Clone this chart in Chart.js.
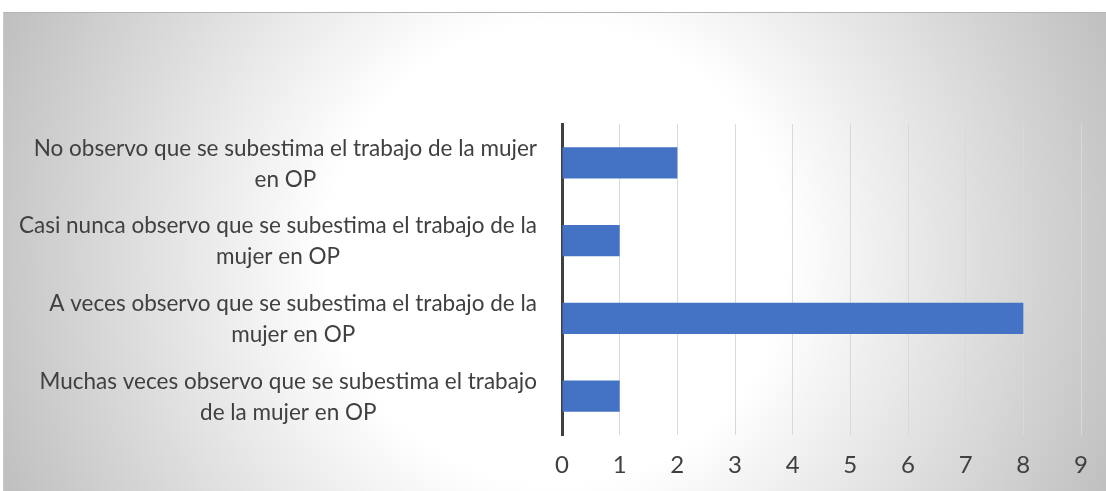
<!DOCTYPE html>
<html>
<head>
<meta charset="utf-8">
<script src="https://cdn.jsdelivr.net/npm/chart.js@4"></script>
<style>
    html, body { margin: 0; padding: 0; width: 1106px; height: 491px; overflow: hidden; background: #fff; }
    #frame {
        position: absolute; left: 3px; top: 12px; width: 1106px; height: 482px;
        border-top: 1px solid #b4b4b4; border-left: 1px solid #c8c8c8;
        background: radial-gradient(circle farthest-corner at 50% 50%, #ffffff 0%, #ffffff 38%, #bfbfbf 100%);
    }
    #bar-chart { position: absolute; left: 0; top: 0; }
</style>
</head>
<body>
<div id="frame"></div>
<canvas id="bar-chart" width="1106" height="491"></canvas>
<script>
const categories = [
    ["No observo que se subestima el trabajo de la mujer", "en OP"],
    ["Casi nunca observo que se subestima el trabajo de la", "mujer en OP"],
    ["A veces observo que se subestima el trabajo de la", "mujer en OP"],
    ["Muchas veces observo que se subestima el trabajo", "de la mujer en OP"]
];
const values = [2, 1, 8, 1];
const xMin = 0;
const xMax = 9;

const fontFamily = 'Lato, "Open Sans", sans-serif';
const labelFont = '22.5px ' + fontFamily;
const textColor = '#404040';

// category labels: block right aligned, lines centred inside the block
const categoryLabels = {
    id: 'categoryLabels',
    afterDraw(chart) {
        const ctx = chart.ctx;
        const y = chart.scales.y;
        const right = chart.chartArea.left - 25;
        const lineH = 31;
        ctx.save();
        ctx.font = labelFont;
        ctx.fillStyle = textColor;
        ctx.textAlign = 'center';
        ctx.textBaseline = 'middle';
        categories.forEach((lines, i) => {
            const cy = y.getPixelForValue(i) + 1;
            const w = Math.max(...lines.map(t => ctx.measureText(t).width));
            const cx = right - w / 2;
            lines.forEach((t, j) => {
                ctx.fillText(t, cx, cy + (j - (lines.length - 1) / 2) * lineH);
            });
        });
        ctx.restore();
    }
};

function setupChart() {
    const ctx = document.getElementById('bar-chart');

    const config = {
        type: 'bar',
        data: {
            labels: categories,
            datasets: [{
                data: values,
                backgroundColor: '#4472C4',
                barPercentage: 0.5,
                categoryPercentage: 0.8
            }]
        },
        options: {
            indexAxis: 'y',
            responsive: false,
            animation: false,
            layout: {
                padding: { top: 124, right: 25, bottom: 0, left: 0 }
            },
            plugins: {
                legend: { display: false },
                tooltip: { enabled: false }
            },
            scales: {
                x: {
                    min: xMin,
                    max: xMax,
                    ticks: {
                        stepSize: 1,
                        padding: 16,
                        color: textColor,
                        font: { family: fontFamily, size: 24 }
                    },
                    grid: { color: '#d9d9d9', lineWidth: 1, drawTicks: false },
                    border: { display: false },
                    afterFit: s => { s.height = 56; }
                },
                y: {
                    ticks: { display: false },
                    grid: { display: false },
                    border: { display: true, color: '#404040', width: 3 },
                    afterFit: s => { s.width = 562; }
                }
            }
        },
        plugins: [categoryLabels]
    };

    return new Chart(ctx, config);
}

setupChart();
</script>
</body>
</html>
